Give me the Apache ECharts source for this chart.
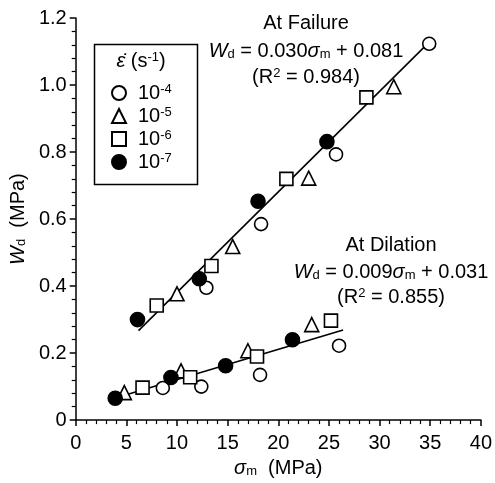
<!DOCTYPE html>
<html><head><meta charset="utf-8">
<script src="https://cdn.jsdelivr.net/npm/echarts@6/dist/echarts.min.js"></script>
<style>html,body{margin:0;padding:0;background:#fff}#c{width:495px;height:483px}</style>
</head><body><div id="c"></div>
<script>
// ---- data (σm in MPa, Wd in MPa) ----
const seriesNames = ['10-4', '10-5', '10-6', '10-7'];
// 10^-4 (open circle)
const rate4Failure  = [[12.9,0.395],[18.3,0.585],[25.7,0.793],[34.9,1.123]];
const rate4Dilation = [[8.6,0.096],[12.4,0.100],[18.2,0.135],[26.0,0.222]];
// 10^-5 (open triangle)
const rate5Failure  = [[10.0,0.377],[15.5,0.518],[23.0,0.722],[31.4,0.995]];
const rate5Dilation = [[4.8,0.082],[10.4,0.147],[17.0,0.207],[23.3,0.285]];
// 10^-6 (open square)
const rate6Failure  = [[8.0,0.342],[13.4,0.460],[20.8,0.720],[28.7,0.963]];
const rate6Dilation = [[6.6,0.097],[11.3,0.128],[17.9,0.190],[25.2,0.297]];
// 10^-7 (filled circle)
const rate7Failure  = [[6.1,0.300],[12.2,0.422],[18.0,0.653],[24.8,0.831]];
const rate7Dilation = [[3.9,0.065],[9.4,0.127],[14.8,0.162],[21.4,0.240]];
// regression line end points
const failureLine  = [[6.2,0.267],[34.5,1.116]];
const dilationLine = [[4.0,0.067],[26.4,0.269]];
const xTicks = [0,5,10,15,20,25,30,35,40];
const yTicks = [0,0.2,0.4,0.6,0.8,1.0,1.2];

const FONT = 'Liberation Sans, Arial, sans-serif';
const FS = 20;
const rich = {
  i:   {fontFamily: FONT, fontSize: FS, fontStyle: 'italic', color: '#000'},
  sub: {fontFamily: FONT, fontSize: 13, color: '#000', verticalAlign: 'bottom', padding: [6,0,0,0]},
  sup: {fontFamily: FONT, fontSize: 13, color: '#000', verticalAlign: 'top', padding: [0,0,6,0]},
  n:   {fontFamily: FONT, fontSize: FS, color: '#000'}
};
const rateStyles = [
  {symbol: 'circle',   size: 13, fill: '#fff'},
  {symbol: 'triangle', size: 14, fill: '#fff'},
  {symbol: 'rect',     size: 13, fill: '#fff'},
  {symbol: 'circle',   size: 14, fill: '#000'}
];
const rateData = [
  rate4Failure.concat(rate4Dilation),
  rate5Failure.concat(rate5Dilation),
  rate6Failure.concat(rate6Dilation),
  rate7Failure.concat(rate7Dilation)
];

const chart = echarts.init(document.getElementById('c'), null, {renderer: 'canvas'});
const scatterSeries = seriesNames.map((name, k) => ({
  type: 'scatter', name: name, data: rateData[k], z: 3,
  symbol: rateStyles[k].symbol, symbolSize: rateStyles[k].size,
  itemStyle: {color: rateStyles[k].fill, borderColor: '#000', borderWidth: 1.6, opacity: 1},
  emphasis: {disabled: true}
}));
const lineSeries = [failureLine, dilationLine].map(d => ({
  type: 'line', data: d, z: 1, symbol: 'none', silent: true,
  lineStyle: {color: '#000', width: 1.6}
}));

chart.setOption({
  animation: false,
  backgroundColor: '#fff',
  grid: {left: 75, top: 18, right: 11, bottom: 56, containLabel: false},
  xAxis: {
    type: 'value', min: 0, max: 40, interval: 5,
    name: '{i|σ}{sub|m}{n|  (MPa)}', nameLocation: 'middle', nameGap: 32,
    nameTextStyle: {rich: rich, fontFamily: FONT, fontSize: FS, color: '#000'},
    axisLine: {show: true, lineStyle: {color: '#000', width: 1.5}},
    axisTick: {show: true, inside: false, length: 6, lineStyle: {color: '#000', width: 1.5}},
    minorTick: {show: true, splitNumber: 5, length: 4, lineStyle: {color: '#000', width: 1.2}},
    axisLabel: {fontFamily: FONT, fontSize: FS, color: '#000', margin: 13,
      formatter: v => xTicks.indexOf(v) >= 0 ? String(v) : ''},
    splitLine: {show: false}
  },
  yAxis: {
    type: 'value', min: 0, max: 1.2, interval: 0.2,
    name: '{i|W}{sub|d}{n|  (MPa)}', nameLocation: 'middle', nameGap: 38,
    nameTextStyle: {rich: rich, fontFamily: FONT, fontSize: FS, color: '#000'},
    axisLine: {show: true, lineStyle: {color: '#000', width: 1.5}},
    axisTick: {show: true, inside: false, length: 6, lineStyle: {color: '#000', width: 1.5}},
    minorTick: {show: true, splitNumber: 5, length: 4, lineStyle: {color: '#000', width: 1.2}},
    axisLabel: {fontFamily: FONT, fontSize: FS, color: '#000', margin: 9,
      formatter: v => { const t = yTicks.find(y => Math.abs(y - v) < 1e-9); return t === undefined ? '' : (t === 0 ? '0' : t.toFixed(1)); }},
    splitLine: {show: false}
  },
  legend: {
    show: true, orient: 'vertical', left: 111, top: 83, padding: 0,
    itemWidth: 14, itemHeight: 14, itemGap: 3,
    data: seriesNames,
    formatter: n => '10{sup|' + n.slice(2) + '}',
    textStyle: {fontFamily: FONT, fontSize: FS, color: '#000', padding: [0,0,0,7], rich: rich},
    selectedMode: false
  },
  graphic: [
    {type: 'rect', left: 92, top: 42, shape: {width: 103, height: 140}, z: 0,
     style: {fill: 'none', stroke: '#000', lineWidth: 1.5}},
    {type: 'text', x: 141, y: 61, z: 10,
     style: {text: '{i|ε̇}{n| (s}{sup|-1}{n|)}', rich: rich, align: 'center', verticalAlign: 'middle'}},
    {type: 'text', x: 306, y: 23, z: 10,
     style: {text: 'At Failure', font: FS + 'px ' + FONT, fill: '#000', align: 'center', verticalAlign: 'middle'}},
    {type: 'text', x: 306, y: 51, z: 10,
     style: {text: '{i|W}{sub|d}{n| = 0.030}{i|σ}{sub|m}{n| + 0.081}', rich: rich, align: 'center', verticalAlign: 'middle'}},
    {type: 'text', x: 306, y: 77, z: 10,
     style: {text: '{n|(R}{sup|2}{n| = 0.984)}', rich: rich, align: 'center', verticalAlign: 'middle'}},
    {type: 'text', x: 391, y: 245, z: 10,
     style: {text: 'At Dilation', font: FS + 'px ' + FONT, fill: '#000', align: 'center', verticalAlign: 'middle'}},
    {type: 'text', x: 391, y: 272, z: 10,
     style: {text: '{i|W}{sub|d}{n| = 0.009}{i|σ}{sub|m}{n| + 0.031}', rich: rich, align: 'center', verticalAlign: 'middle'}},
    {type: 'text', x: 391, y: 297, z: 10,
     style: {text: '{n|(R}{sup|2}{n| = 0.855)}', rich: rich, align: 'center', verticalAlign: 'middle'}}
  ],
  series: lineSeries.concat(scatterSeries)
});
</script></body></html>
